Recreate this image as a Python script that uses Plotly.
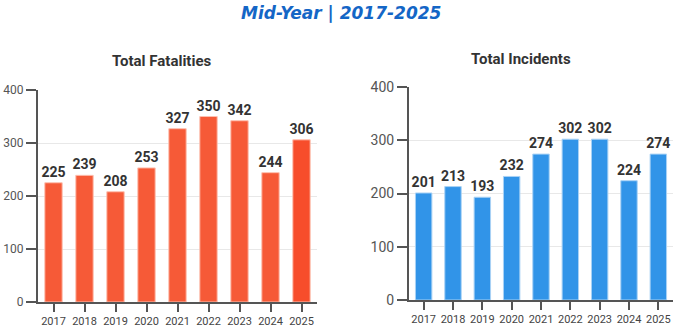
import plotly.graph_objects as go

years = ["2017", "2018", "2019", "2020", "2021", "2022", "2023", "2024", "2025"]
fatalities = [225, 239, 208, 253, 327, 350, 342, 244, 306]
incidents = [201, 213, 193, 232, 274, 302, 302, 224, 274]
y_ticks = [0, 100, 200, 300, 400]

W, H = 679, 330
def px(x): return x / W
def py(y): return (H - y) / H

orange = ["#F65A37"] * 8 + ["#F74D2B"]
blue = "#3194E8"
FONT = "Roboto"

fig = go.Figure()
fig.add_trace(go.Bar(
    x=years, y=fatalities, xaxis="x", yaxis="y",
    marker=dict(color=orange, line=dict(color="#FDC0B0", width=1)),
    text=fatalities, textposition="outside", cliponaxis=False, constraintext="none",
    textfont=dict(family=FONT, size=14, color="#333333", weight="bold"),
    width=0.56, hoverinfo="skip"))
fig.add_trace(go.Bar(
    x=years, y=incidents, xaxis="x2", yaxis="y2",
    marker=dict(color=blue, line=dict(color="#A9D2F5", width=1)),
    text=incidents, textposition="outside", cliponaxis=False, constraintext="none",
    textfont=dict(family=FONT, size=14, color="#333333", weight="bold"),
    width=0.56, hoverinfo="skip"))

axis_common = dict(showline=True, linecolor="#555555", linewidth=2, automargin=False,
                   ticks="outside", tickcolor="#555555", tickwidth=2)
fig.update_layout(
    width=W, height=H, margin=dict(l=0, r=0, t=0, b=0),
    paper_bgcolor="white", plot_bgcolor="white",
    showlegend=False, bargap=0.44,
    font=dict(family=FONT, color="#555555"),
    xaxis=dict(domain=[px(38), px(317)], anchor="y", ticklen=8, tickangle=0,
               tickfont=dict(size=11, color="#444444"), **axis_common),
    yaxis=dict(domain=[py(302), py(90)], anchor="x", range=[0, 400],
               tickvals=y_ticks, ticklen=10, showgrid=True, gridcolor="#E8E8E8",
               tickfont=dict(size=12, color="#555555"), zeroline=False, **axis_common),
    xaxis2=dict(domain=[px(409), px(673)], anchor="y2", ticklen=8, tickangle=0,
                tickfont=dict(size=11, color="#444444"), **axis_common),
    yaxis2=dict(domain=[py(300), py(87)], anchor="x2", range=[0, 400],
                tickvals=y_ticks, ticklen=10, showgrid=True, gridcolor="#E8E8E8",
                tickfont=dict(size=14, color="#555555"), zeroline=False, **axis_common),
    annotations=[
        dict(text="<b><i>Mid-Year | 2017-2025</i></b>", x=px(341), y=py(13),
             xref="paper", yref="paper", showarrow=False, xanchor="center", yanchor="middle",
             font=dict(family="DejaVu Sans", size=17, color="#1466C6")),
        dict(text="<b>Total Fatalities</b>", x=px(161), y=py(61),
             xref="paper", yref="paper", showarrow=False, xanchor="center", yanchor="middle",
             font=dict(family=FONT, size=15, color="#333333")),
        dict(text="<b>Total Incidents</b>", x=px(521), y=py(59),
             xref="paper", yref="paper", showarrow=False, xanchor="center", yanchor="middle",
             font=dict(family=FONT, size=15, color="#333333")),
    ],
)
fig.write_html("out.html")
